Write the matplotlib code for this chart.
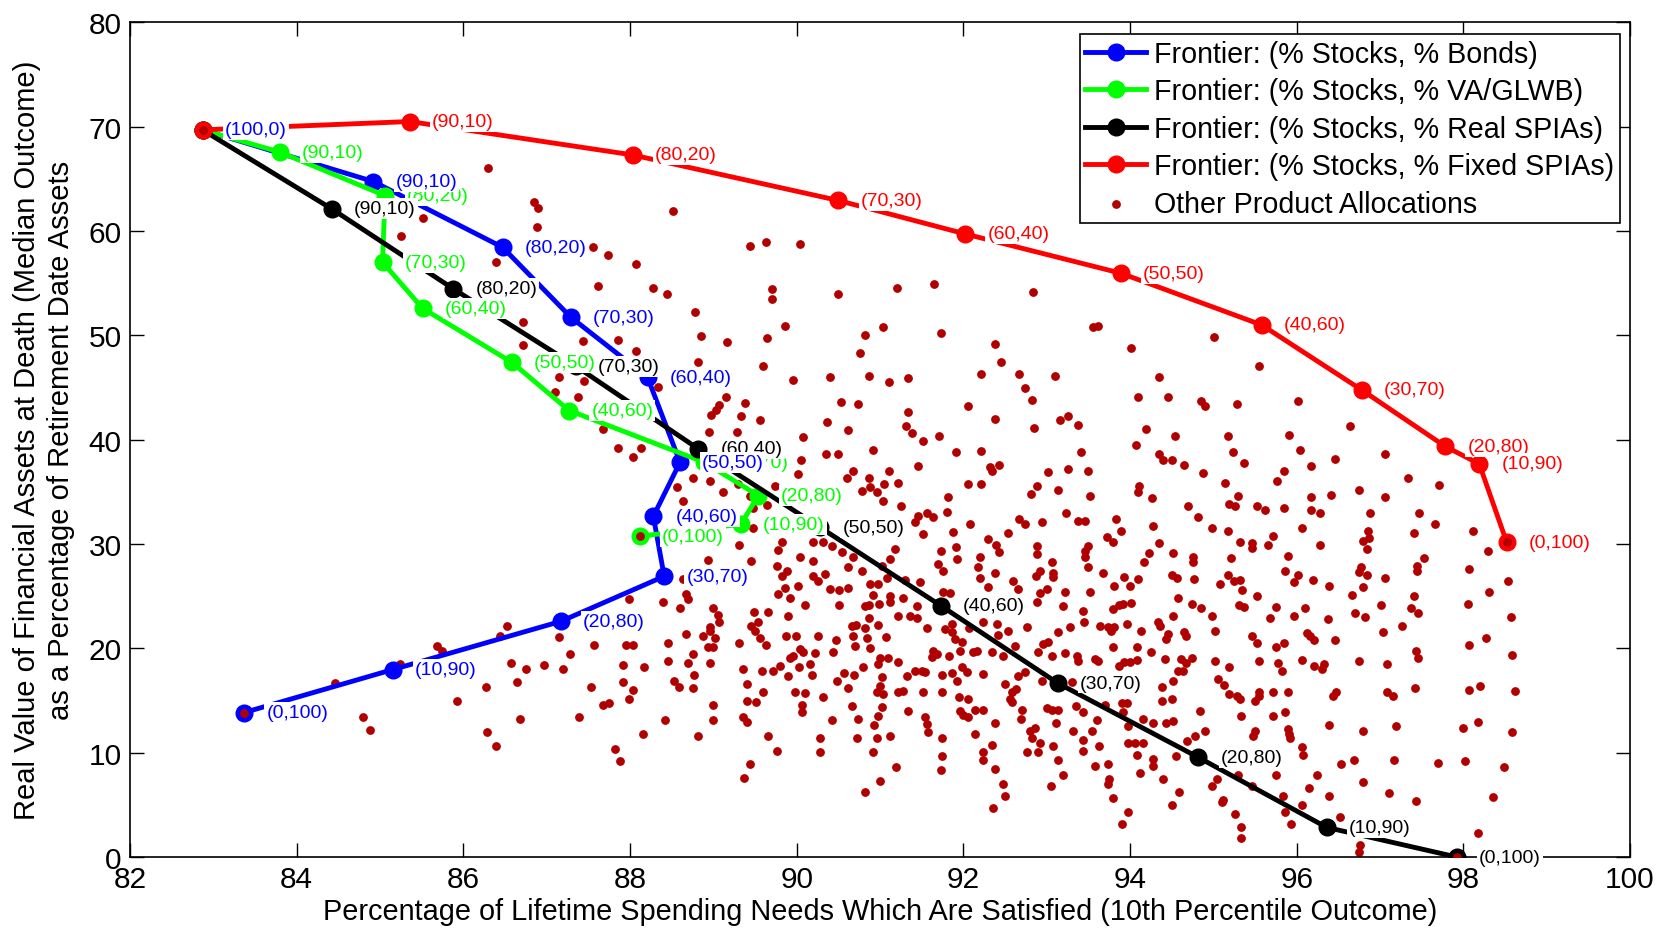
import matplotlib.pyplot as plt
import numpy as np

plt.rcParams['font.family'] = ['Liberation Sans', 'DejaVu Sans']

# % stocks at each frontier point (the rest is the other product)
stock_pct = [100, 90, 80, 70, 60, 50, 40, 30, 20, 10, 0]

# x = 10th percentile spending satisfied (%), y = median real assets at death (%)
bonds_x = [82.87, 84.92, 86.47, 87.29, 88.21, 88.60, 88.28, 88.41, 87.17, 85.15, 83.37]
bonds_y = [69.7, 64.75, 58.45, 51.74, 45.99, 37.84, 32.66, 26.91, 22.59, 17.96, 13.85]

glwb_x = [82.87, 83.80, 85.06, 85.03, 85.51, 86.58, 87.27, 88.89, 89.54, 89.33, 88.12]
glwb_y = [69.7, 67.56, 63.4, 57.02, 52.6, 47.43, 42.8, 37.84, 34.64, 31.9, 30.75]

real_x = [82.87, 84.42, 85.88, 87.35, 88.82, 90.28, 91.73, 93.13, 94.82, 96.36, 97.92]
real_y = [69.7, 62.13, 54.46, 47.05, 39.12, 31.6, 24.09, 16.68, 9.55, 2.84, 0.0]

fixed_x = [82.87, 85.36, 88.03, 90.50, 92.02, 93.89, 95.58, 96.78, 97.78, 98.19, 98.52]
fixed_y = [69.7, 70.5, 67.3, 62.93, 59.73, 55.96, 51.0, 44.77, 39.37, 37.68, 30.17]

# all the other mixed allocations
other_pts = [
    (86.30, 66.03), (86.85, 62.83), (86.90, 62.23), (88.51, 61.97), (85.52, 61.24), (86.88, 60.37),
    (85.25, 59.51), (87.56, 58.52), (89.44, 58.61), (89.63, 58.93), (87.73, 57.75), (88.07, 56.89),
    (86.39, 57.08), (87.62, 54.72), (88.27, 54.59), (88.44, 54.01), (88.78, 52.29), (86.71, 51.26),
    (88.85, 49.92), (89.16, 49.41), (89.64, 49.79), (87.86, 49.57), (87.44, 49.44), (86.71, 49.09),
    (88.07, 48.55), (89.60, 47.04), (88.82, 47.43), (88.33, 45.03), (87.15, 45.99), (87.45, 45.67),
    (87.37, 44.07), (87.10, 44.55), (89.15, 44.07), (89.07, 43.34), (89.03, 42.89), (88.97, 42.38),
    (89.38, 43.53), (89.33, 42.25), (89.56, 41.93), (88.95, 40.78), (89.28, 40.78), (87.68, 41.04),
    (87.86, 39.18), (88.04, 38.32), (88.13, 39.18), (88.56, 35.44), (88.75, 36.31), (88.96, 36.08),
    (89.12, 35.03), (89.30, 35.76), (89.44, 34.64),
    (90.04, 58.77), (89.70, 54.46), (89.70, 53.50), (90.49, 53.98), (91.20, 54.56), (91.65, 54.88),
    (92.83, 54.14), (89.86, 50.94), (90.82, 50.08), (91.04, 50.78), (91.73, 50.24), (90.76, 48.32),
    (92.38, 49.19), (92.45, 47.43), (93.56, 50.78), (93.62, 50.94), (94.01, 48.77), (89.96, 45.73),
    (90.40, 45.99), (90.87, 46.15), (91.11, 45.57), (91.34, 45.89), (92.21, 46.31), (92.67, 46.31),
    (92.74, 45.00), (93.10, 46.15), (92.82, 43.85), (94.35, 46.02), (94.10, 44.14), (94.46, 44.14),
    (94.85, 43.75), (94.90, 43.27), (90.53, 43.59), (90.74, 43.43), (91.33, 42.70), (92.05, 43.27),
    (90.36, 41.68), (90.62, 40.94), (91.31, 41.29), (91.38, 40.65), (91.51, 39.92), (91.71, 40.40),
    (92.38, 42.00), (92.85, 41.10), (93.16, 41.93), (93.25, 42.25), (93.38, 41.42), (94.19, 41.00),
    (94.54, 40.40), (94.07, 39.54), (90.07, 40.24), (90.05, 38.06), (90.35, 38.64), (90.49, 38.64),
    (90.91, 39.06), (91.91, 38.80), (92.21, 38.93), (93.41, 38.80), (94.35, 38.64), (94.40, 38.06),
    (94.50, 38.06), (94.65, 37.62), (91.45, 37.46), (92.32, 37.36), (92.43, 37.62), (92.34, 37.04),
    (93.25, 37.20), (93.49, 37.04), (93.01, 36.88), (90.67, 37.04), (90.60, 36.31), (90.87, 36.31),
    (91.11, 37.04), (91.05, 35.76), (91.22, 35.86), (92.05, 35.76), (92.21, 35.76), (92.88, 35.60),
    (93.14, 35.19), (94.11, 35.60), (94.10, 35.03), (94.88, 36.79), (90.78, 35.12), (90.88, 35.44),
    (90.96, 34.96), (92.81, 34.80), (93.52, 34.64), (94.26, 34.39), (91.82, 34.48), (89.74, 35.60),
    (90.01, 36.72),
    (95.01, 49.82), (95.55, 47.04), (95.28, 43.43), (96.01, 43.69), (96.64, 41.35), (95.17, 40.33),
    (95.91, 40.49), (95.23, 38.80), (96.04, 39.05), (95.37, 37.74), (96.46, 38.16), (96.17, 37.45),
    (95.85, 37.04), (97.06, 38.61), (95.76, 36.02), (95.14, 35.86), (97.33, 36.30), (97.71, 35.70),
    (95.30, 34.64), (96.17, 34.55), (96.41, 34.74), (96.75, 35.19), (97.06, 34.55),
    (88.64, 34.16), (89.48, 33.43), (89.64, 33.75), (89.47, 31.51), (89.31, 29.94), (88.93, 28.50),
    (89.45, 28.38), (88.64, 26.65), (88.67, 25.21), (88.70, 24.73), (87.99, 24.73), (88.39, 24.41),
    (88.60, 23.84), (88.99, 23.84), (89.06, 23.23), (89.07, 22.56), (88.96, 22.02), (88.96, 21.70),
    (88.87, 21.15), (89.02, 20.96), (88.67, 21.38), (89.49, 23.52), (89.53, 22.56), (89.45, 22.18),
    (89.50, 21.70), (89.56, 20.96), (89.66, 23.52), (89.63, 20.32), (89.31, 20.51), (88.94, 20.10),
    (88.99, 20.10), (88.46, 20.51), (88.75, 19.46), (88.69, 18.60), (88.96, 18.60), (88.46, 18.76),
    (88.77, 17.48), (88.53, 16.90), (88.59, 16.26), (88.75, 16.17), (89.35, 18.02), (89.58, 17.86),
    (89.40, 16.58), (89.60, 15.85), (89.40, 14.98), (89.51, 14.89), (89.00, 14.57), (89.00, 13.13),
    (89.36, 13.39), (89.40, 12.97), (89.65, 11.57), (88.82, 11.63), (88.42, 13.13), (88.16, 11.79),
    (87.82, 10.35), (87.88, 9.17), (89.44, 8.91), (89.37, 7.60), (87.95, 20.35), (88.04, 20.35),
    (87.57, 20.35), (87.91, 18.44), (88.17, 18.18), (87.91, 16.74), (88.04, 16.01), (87.99, 15.14),
    (87.75, 14.73), (87.68, 14.57), (87.53, 16.26), (87.39, 13.39), (87.28, 19.46), (87.19, 18.02),
    (87.15, 21.12), (86.97, 18.44), (86.75, 18.02), (86.57, 18.60), (86.64, 16.74), (86.68, 13.23),
    (86.27, 16.26), (85.92, 14.98), (86.28, 11.95), (86.39, 10.61), (84.79, 13.39), (84.88, 12.20),
    (84.46, 16.68), (85.68, 20.26), (85.74, 19.78), (86.52, 22.11), (86.44, 21.22), (85.24, 18.50),
    (91.04, 34.16), (91.25, 33.62), (91.80, 33.11), (91.56, 32.98), (91.64, 32.56), (91.46, 32.66),
    (91.42, 32.15), (92.08, 31.92), (92.67, 32.40), (92.74, 31.92), (92.94, 32.08), (93.23, 32.98),
    (93.37, 32.24), (93.46, 32.24), (93.83, 32.40), (94.70, 33.62), (94.81, 32.56), (93.89, 31.22),
    (94.27, 31.70), (93.72, 30.64), (93.80, 30.17), (91.51, 30.96), (91.87, 31.12), (92.53, 31.06),
    (92.30, 30.48), (89.82, 30.23), (90.20, 30.17), (90.32, 30.17), (90.42, 29.85), (92.39, 29.94),
    (92.88, 29.85), (93.50, 29.85), (94.35, 30.07), (91.18, 29.53), (91.91, 29.75), (93.46, 29.37),
    (89.78, 29.46), (90.04, 28.73), (90.20, 28.41), (90.54, 29.21), (90.68, 28.73), (91.12, 28.57),
    (91.73, 29.30), (91.92, 28.57), (92.20, 28.73), (92.43, 29.21), (92.88, 29.05), (93.06, 28.25),
    (94.23, 29.11), (94.52, 29.11), (94.75, 28.73), (94.75, 28.25), (94.17, 28.25), (93.46, 28.73),
    (89.76, 27.93), (89.88, 27.45), (90.62, 27.77), (90.78, 27.45), (91.02, 27.93), (91.70, 28.09),
    (91.76, 27.45), (92.18, 27.77), (92.92, 27.45), (93.50, 27.77), (89.82, 26.91), (90.20, 26.91),
    (90.26, 26.49), (90.34, 27.13), (91.08, 26.71), (91.30, 26.59), (91.48, 26.33), (92.20, 26.71),
    (92.38, 27.22), (92.60, 26.49), (92.87, 26.91), (93.08, 27.22), (93.08, 26.81), (93.68, 27.22),
    (93.93, 26.81), (94.10, 26.65), (94.50, 27.06), (94.56, 26.71), (94.77, 26.65), (89.86, 25.75),
    (90.02, 26.01), (90.40, 25.69), (90.51, 25.63), (90.62, 25.75), (90.88, 26.17), (90.97, 26.17),
    (92.30, 25.85), (92.66, 25.69), (93.22, 25.37), (92.92, 25.31), (93.52, 25.43), (93.81, 26.01),
    (94.00, 25.95), (89.77, 25.21), (89.92, 24.80), (90.92, 25.12), (91.12, 25.05), (91.28, 24.80),
    (91.76, 25.43), (91.84, 25.31), (94.57, 24.80), (90.10, 24.16), (90.51, 24.16), (90.82, 24.03),
    (90.87, 24.16), (90.99, 24.25), (91.12, 24.41), (91.44, 24.09), (91.22, 23.13), (91.36, 23.07),
    (91.44, 22.88), (89.90, 23.13), (90.87, 22.88), (92.24, 22.50), (92.40, 22.34), (92.76, 22.02),
    (92.88, 24.41), (93.00, 25.69), (93.20, 24.09), (93.44, 23.61), (93.80, 23.77), (93.87, 24.16),
    (93.91, 24.25), (94.01, 24.35), (94.52, 23.13), (94.74, 24.25), (94.85, 23.84), (93.45, 22.56),
    (93.96, 22.34), (93.64, 22.18), (93.73, 22.02), (93.81, 22.02), (94.33, 22.49), (94.36, 22.11),
    (90.66, 22.18), (90.71, 22.24), (90.82, 21.92), (90.97, 22.24), (91.86, 22.34), (91.78, 21.86),
    (91.56, 21.92), (92.07, 21.92), (89.87, 21.15), (89.99, 21.22), (90.25, 21.22), (90.47, 20.83),
    (90.67, 21.22), (90.70, 20.26), (90.84, 20.96), (91.07, 21.06), (91.90, 20.90), (91.86, 21.54),
    (91.98, 20.58), (91.96, 19.78), (92.42, 21.28), (92.53, 21.70), (92.62, 20.26), (92.95, 20.42),
    (93.02, 20.58), (93.14, 21.54), (93.28, 22.08), (93.77, 21.70), (94.13, 21.70), (94.43, 20.90),
    (94.46, 21.38), (94.65, 21.54), (94.67, 21.22), (94.08, 20.10), (93.80, 20.10), (90.04, 19.94),
    (90.08, 19.62), (89.96, 19.30), (89.92, 19.05), (90.22, 19.56), (90.44, 19.62), (90.88, 20.00),
    (91.00, 19.05), (91.64, 19.78), (91.68, 19.46), (91.62, 19.14), (91.83, 19.30), (92.12, 19.62),
    (92.16, 19.78), (92.34, 19.62), (92.48, 19.30), (92.90, 19.62), (93.06, 19.30), (93.22, 19.56),
    (93.36, 19.24), (93.38, 18.82), (93.58, 18.98), (93.62, 18.76), (93.93, 18.66), (94.00, 18.66),
    (94.25, 19.62), (94.42, 18.98), (94.61, 18.98), (94.67, 18.60), (94.74, 19.05), (93.87, 18.34),
    (94.08, 18.92), (89.80, 18.34), (89.72, 17.86), (90.03, 18.25), (90.16, 18.50), (90.18, 17.45),
    (89.90, 17.38), (90.80, 18.18), (90.98, 18.50), (91.10, 19.05), (91.22, 18.66), (90.57, 17.64),
    (90.69, 17.45), (91.02, 17.22), (91.32, 17.38), (91.42, 17.86), (91.50, 17.86), (91.54, 17.70),
    (91.74, 17.45), (91.86, 17.64), (91.98, 18.18), (92.04, 17.70), (92.24, 17.54), (91.92, 16.90),
    (92.66, 17.38), (92.74, 17.70), (92.50, 16.58), (92.63, 16.10), (92.58, 15.78), (92.94, 16.90),
    (93.30, 16.74), (94.52, 16.90), (94.58, 17.86), (94.63, 17.86), (94.38, 16.26), (90.48, 16.90),
    (90.62, 16.17), (91.00, 16.42), (90.96, 15.85), (91.04, 15.62), (91.22, 15.85), (91.28, 15.94),
    (91.52, 15.78), (91.74, 15.85), (89.98, 15.85), (90.10, 15.72), (90.32, 15.30), (91.95, 15.30),
    (92.06, 15.14), (92.56, 15.14), (92.58, 14.82), (90.06, 14.57), (90.06, 13.87), (90.66, 14.44),
    (91.02, 14.35), (91.34, 14.03), (91.54, 13.39), (91.96, 14.03), (91.99, 13.61), (92.05, 13.39),
    (92.14, 14.12), (92.24, 14.12), (92.70, 14.12), (92.69, 13.23), (93.00, 14.25), (93.06, 14.12),
    (93.14, 14.12), (93.11, 12.84), (93.35, 14.44), (93.44, 13.87), (93.60, 13.17), (93.70, 14.57),
    (93.90, 14.76), (93.96, 14.76), (93.92, 13.87), (93.98, 12.59), (94.15, 13.23), (94.27, 12.84),
    (94.43, 12.84), (94.38, 14.98), (94.50, 15.14), (94.52, 13.07), (94.84, 14.03), (90.42, 13.17),
    (90.74, 13.23), (90.98, 13.55), (90.93, 12.65), (91.56, 12.75), (91.58, 11.95), (92.14, 11.79),
    (92.38, 12.84), (92.80, 12.11), (92.86, 12.33), (93.32, 12.11), (93.54, 12.11), (94.90, 12.11),
    (94.68, 11.15), (94.78, 11.63), (90.28, 11.37), (90.72, 11.37), (90.96, 11.37), (91.12, 11.63),
    (91.74, 11.37), (92.34, 10.73), (92.82, 11.37), (92.92, 10.93), (93.08, 10.61), (93.43, 11.25),
    (93.43, 10.19), (93.63, 10.61), (93.98, 10.93), (94.06, 10.93), (94.16, 10.93), (94.08, 9.78),
    (94.28, 9.39), (94.28, 8.69), (94.55, 9.65), (89.76, 10.19), (90.28, 10.03), (90.92, 10.03),
    (91.74, 9.65), (92.23, 9.33), (92.24, 10.03), (92.76, 10.03), (92.90, 10.03), (93.14, 9.33),
    (93.58, 8.75), (93.74, 8.91), (94.12, 8.05), (91.19, 8.59), (91.73, 8.37), (92.38, 8.43),
    (93.19, 7.89), (93.75, 7.48), (93.74, 7.00), (94.39, 7.48), (91.00, 7.32), (92.47, 6.99),
    (93.05, 6.77), (90.82, 6.20), (92.50, 5.88), (93.80, 5.62), (94.59, 6.26), (94.50, 4.98),
    (92.36, 4.66), (93.97, 4.28), (93.90, 3.16),
    (95.19, 33.84), (95.26, 33.62), (95.52, 33.68), (95.62, 33.30), (95.85, 33.43), (96.17, 33.30),
    (96.28, 32.98), (96.88, 32.98), (97.47, 32.98), (97.66, 31.92), (94.98, 31.51), (95.17, 31.22),
    (95.32, 30.23), (95.46, 30.07), (95.46, 29.62), (95.71, 30.80), (95.66, 29.94), (96.06, 31.51),
    (96.28, 29.94), (96.80, 30.32), (96.85, 31.22), (96.87, 30.55), (96.84, 29.53), (97.41, 31.06),
    (97.53, 28.63), (98.11, 31.22), (98.29, 29.37), (95.21, 28.63), (95.89, 28.89), (95.86, 27.45),
    (96.01, 27.03), (95.97, 26.33), (95.17, 27.03), (95.25, 26.49), (95.32, 26.55), (95.08, 26.17),
    (95.34, 25.63), (95.52, 24.99), (96.19, 26.59), (96.39, 26.01), (96.75, 27.29), (96.77, 27.77),
    (96.84, 27.03), (96.79, 25.85), (96.66, 25.12), (97.06, 26.71), (97.44, 27.93), (97.44, 27.45),
    (97.41, 24.99), (98.07, 27.61), (98.53, 26.43), (98.31, 25.43), (98.06, 24.25), (98.57, 22.97),
    (95.31, 24.16), (95.37, 24.00), (95.75, 23.93), (96.10, 23.84), (94.98, 23.13), (95.68, 22.88),
    (95.97, 23.13), (96.37, 22.81), (96.70, 23.39), (96.82, 22.97), (97.01, 24.16), (97.37, 23.84),
    (97.46, 23.39), (97.26, 22.11), (97.04, 21.54), (95.02, 21.70), (95.46, 21.22), (95.52, 20.51),
    (95.75, 20.10), (95.85, 20.51), (96.12, 21.47), (96.16, 21.15), (96.21, 20.83), (96.46, 20.80),
    (98.07, 20.35), (98.27, 20.96), (98.58, 19.36), (97.43, 19.78), (97.46, 19.05), (95.02, 18.76),
    (95.19, 18.18), (95.55, 18.76), (95.77, 18.60), (95.82, 17.86), (96.06, 18.92), (96.21, 18.34),
    (96.30, 18.02), (96.33, 18.50), (96.75, 18.76), (97.08, 18.50), (95.06, 17.06), (95.13, 16.49),
    (95.19, 15.62), (95.28, 15.46), (95.32, 15.14), (95.50, 14.98), (95.55, 15.85), (95.55, 15.46),
    (95.71, 15.85), (95.90, 15.85), (96.43, 15.46), (96.47, 15.85), (97.08, 15.78), (97.15, 15.46),
    (97.42, 16.17), (98.07, 16.01), (98.20, 16.42), (98.62, 15.88), (95.33, 13.48), (95.71, 13.55),
    (95.86, 13.87), (95.50, 12.11), (95.48, 11.56), (95.89, 12.27), (95.91, 11.79), (95.92, 11.37),
    (96.39, 12.65), (96.79, 12.11), (97.19, 12.52), (97.99, 12.36), (98.17, 12.97), (98.58, 11.95),
    (96.06, 10.51), (96.08, 9.78), (96.53, 8.91), (96.69, 9.33), (97.17, 9.33), (97.69, 9.01),
    (98.02, 9.17), (98.49, 8.59), (95.75, 7.86), (96.24, 7.86), (96.80, 7.16), (95.30, 7.86),
    (95.04, 7.48), (94.98, 6.83), (95.46, 6.83), (96.15, 6.58), (96.39, 5.88), (97.11, 6.13),
    (97.43, 5.40), (98.35, 5.72), (95.11, 5.49), (95.10, 5.24), (95.83, 5.88), (95.86, 4.28),
    (96.06, 4.98), (96.52, 3.80), (95.26, 4.12), (95.93, 3.16), (95.33, 2.84), (95.33, 1.79),
    (98.17, 2.26), (96.76, 1.15), (96.75, 0.51),
]

dot_color = '#B00000'

fig = plt.figure(figsize=(16.71, 9.29), dpi=100)
ax = fig.add_axes([0.0778, 0.0764, 0.8977, 0.8984])

pts = np.array(other_pts)
ax.scatter(pts[:, 0], pts[:, 1], s=28, color=dot_color, zorder=2,
           label='Other Product Allocations')

series = [
    (bonds_x, bonds_y, 'blue', 'Frontier: (% Stocks, % Bonds)'),
    (glwb_x, glwb_y, '#00FF00', 'Frontier: (% Stocks, % VA/GLWB)'),
    (real_x, real_y, 'black', 'Frontier: (% Stocks, % Real SPIAs)'),
    (fixed_x, fixed_y, 'red', 'Frontier: (% Stocks, % Fixed SPIAs)'),
]
handles = []
for xs, ys, col, lab in series:
    h, = ax.plot(xs, ys, '-o', color=col, lw=3.5, ms=12, label=lab, zorder=3)
    handles.append(h)

# the pure single-product allocations are part of the cloud too, drawn on top
end_x = [bonds_x[0]] + [s[0][-1] for s in series]
end_y = [bonds_y[0]] + [s[1][-1] for s in series]
ax.scatter(end_x, end_y, s=28, color=dot_color, zorder=4)

# point labels with white boxes, like the matlab text() calls
for xs, ys, col, lab in [series[1], series[2], series[3], series[0]]:
    for i, s in enumerate(stock_pct):
        if s == 100 and col != 'blue':
            continue
        ax.annotate('(%d,%d)' % (s, 100 - s), (xs[i], ys[i]), xytext=(16, 0),
                    textcoords='offset points', ha='left', va='center',
                    fontsize=14, color=col, zorder=5,
                    bbox=dict(boxstyle='square,pad=0.1', fc='white', ec='none'))

sc = ax.collections[0]
leg = ax.legend(handles + [sc], [h.get_label() for h in handles] + [sc.get_label()],
                loc='upper right', bbox_to_anchor=(0.9933, 0.9861), borderaxespad=0,
                fontsize=20.6, fancybox=False, framealpha=1, edgecolor='black',
                handlelength=2.1, handletextpad=0.3, labelspacing=0.33,
                borderpad=0.2, scatterpoints=1)
leg.get_frame().set_linewidth(1.2)
leg.set_zorder(10)

ax.set_xlim(82, 100)
ax.set_ylim(0, 80)
ax.set_xticks(np.arange(82, 101, 2))
ax.set_yticks(np.arange(0, 81, 10))
ax.tick_params(direction='in', length=10, width=1, top=True, right=True,
               labelsize=21.5, pad=6)
for sp in ax.spines.values():
    sp.set_linewidth(1.2)

ax.set_xlabel('Percentage of Lifetime Spending Needs Which Are Satisfied (10th Percentile Outcome)',
              fontsize=20.8)
ax.set_ylabel('Real Value of Financial Assets at Death (Median Outcome)\n'
              'as a Percentage of Retirement Date Assets', fontsize=21, linespacing=1.25)
ax.xaxis.set_label_coords(0.5, -0.048)
ax.yaxis.set_label_coords(-0.037, 0.5)

fig.savefig('out.png', dpi=100)
